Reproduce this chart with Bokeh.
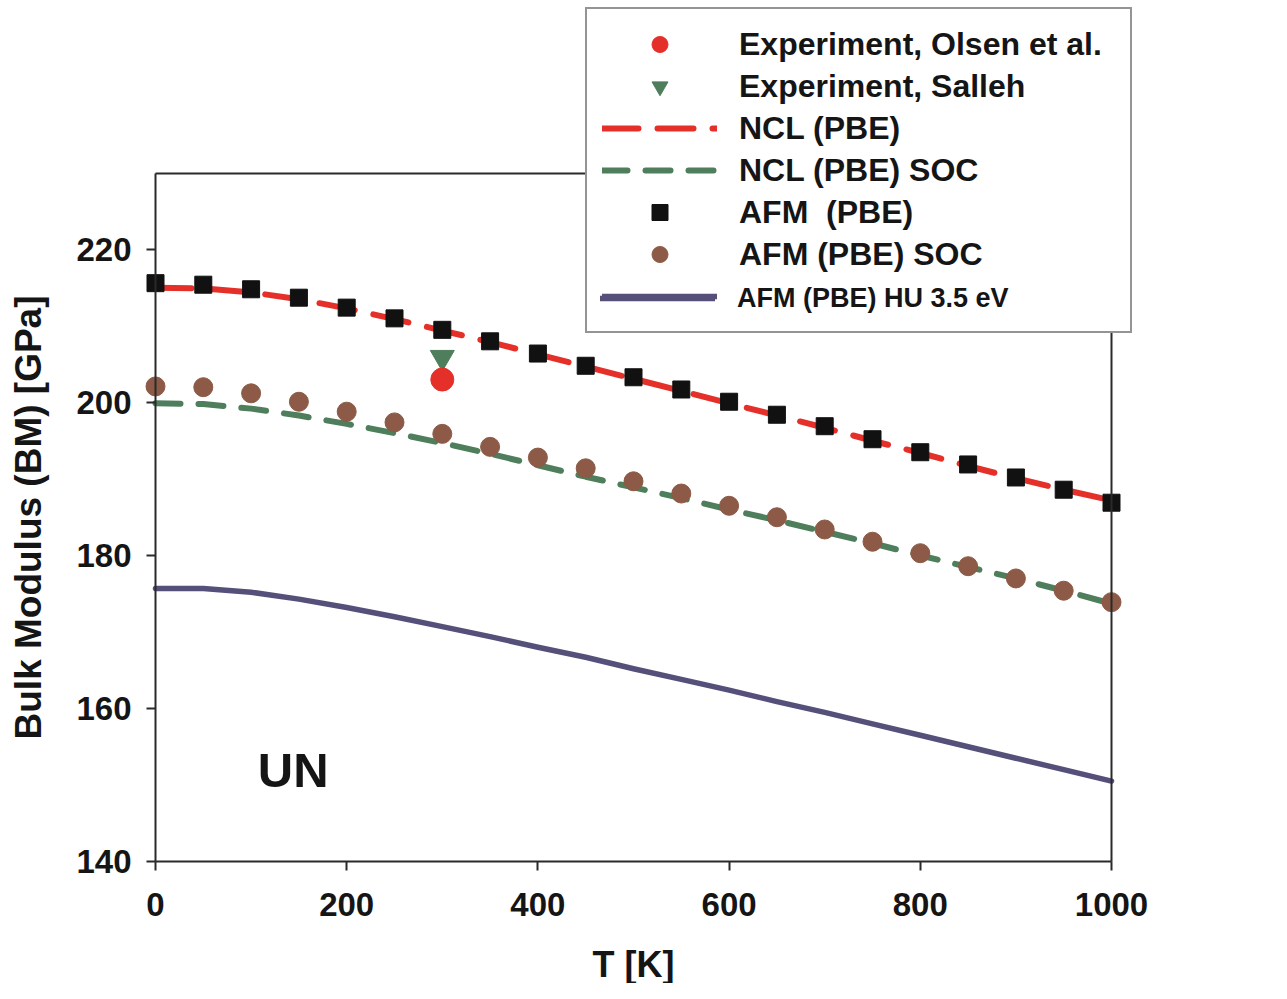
from bokeh.plotting import figure
from bokeh.models import Range1d, FixedTicker, LinearAxis, Legend, LegendItem
from bokeh.core.properties import value
from bokeh.embed import file_html
from bokeh.resources import INLINE

# ---------------- data ----------------
T = [0, 50, 100, 150, 200, 250, 300, 350, 400, 450, 500,
     550, 600, 650, 700, 750, 800, 850, 900, 950, 1000]
afm_pbe = [215.6, 215.4, 214.8, 213.7, 212.4, 211.0, 209.5, 208.0, 206.4, 204.8, 203.3,
           201.7, 200.1, 198.4, 196.9, 195.2, 193.5, 191.9, 190.2, 188.6, 186.9]
ncl_pbe = [215.0, 214.9, 214.4, 213.5, 212.3, 210.9, 209.4, 207.9, 206.3, 204.7, 203.1,
           201.5, 199.9, 198.3, 196.7, 195.0, 193.4, 191.7, 190.1, 188.6, 187.2]
afm_soc = [202.1, 202.0, 201.2, 200.1, 198.8, 197.4, 195.9, 194.2, 192.8, 191.4, 189.7,
           188.1, 186.5, 185.0, 183.4, 181.8, 180.3, 178.6, 177.0, 175.4, 173.9]
ncl_soc = [199.9, 199.8, 199.2, 198.3, 197.2, 196.0, 194.7, 193.3, 191.8, 190.3, 188.9,
           187.5, 186.0, 184.6, 183.1, 181.6, 180.0, 178.5, 177.0, 175.4, 173.7]
afm_hu = [175.7, 175.7, 175.2, 174.3, 173.2, 172.0, 170.7, 169.4, 168.0, 166.7, 165.2,
          163.8, 162.4, 160.9, 159.5, 158.0, 156.5, 155.0, 153.5, 152.0, 150.5]
exp_T = [300]
olsen = [203.0]
salleh = [205.9]

x_ticks = [0, 200, 400, 600, 800, 1000]
y_ticks = [140, 160, 180, 200, 220]
x_lim = (0, 1000)
y_lim = (140, 230)

labels = ["Experiment, Olsen et al.", "Experiment, Salleh", "NCL (PBE)",
          "NCL (PBE) SOC", "AFM  (PBE)", "AFM (PBE) SOC", "AFM (PBE) HU 3.5 eV"]

# ---------------- style ----------------
FONT = "Liberation Sans"
RED = "#e5302a"
GREEN = "#4e7e5b"
BROWN = "#8c5a46"
PURPLE = "#55507a"
AX = "#2a2a2a"
TXT = "#151515"

W, H = 1270, 983
# frame spans the whole canvas; the visible box is drawn by fixed-location axes
PX_X = 0.956   # px per K
PX_Y = 7.65    # px per GPa
X0_PX, Y220_PX = 155, 249
xs = -X0_PX / PX_X
xe = xs + W / PX_X
ye = 220 + Y220_PX / PX_Y
ys = ye - H / PX_Y

p = figure(width=W, height=H, output_backend="svg", toolbar_location=None,
           x_range=Range1d(xs, xe), y_range=Range1d(ys, ye),
           x_axis_location=None, y_axis_location=None,
           min_border_left=0, min_border_right=0,
           min_border_top=0, min_border_bottom=0)
p.xgrid.visible = False
p.ygrid.visible = False
p.outline_line_color = None
p.background_fill_color = "white"
p.border_fill_color = "white"


def style_axis(ax, label_size="36px"):
    ax.axis_line_color = AX
    ax.axis_line_width = 2
    ax.major_tick_line_color = AX
    ax.major_tick_line_width = 2
    ax.major_tick_out = 9
    ax.major_tick_in = 0
    ax.minor_tick_out = 0
    ax.minor_tick_in = 0
    ax.major_label_text_font = FONT
    ax.major_label_text_font_style = "bold"
    ax.major_label_text_font_size = "33px"
    ax.major_label_text_color = TXT
    ax.axis_label_text_font = FONT
    ax.axis_label_text_font_style = "bold"
    ax.axis_label_text_font_size = label_size
    ax.axis_label_text_color = TXT


xa = LinearAxis(ticker=FixedTicker(ticks=x_ticks, minor_ticks=[]), bounds=x_lim,
                fixed_location=y_lim[0], axis_label="T [K]")
style_axis(xa, "36px")
xa.major_label_standoff = 22
xa.axis_label_standoff = 25
p.add_layout(xa, "below")

ya = LinearAxis(ticker=FixedTicker(ticks=y_ticks, minor_ticks=[]), bounds=y_lim,
                fixed_location=x_lim[0], axis_label="Bulk Modulus (BM) [GPa]")
style_axis(ya, "37px")
ya.major_label_standoff = 15
ya.axis_label_standoff = 24
p.add_layout(ya, "left")

top = LinearAxis(ticker=FixedTicker(ticks=[], minor_ticks=[]), bounds=x_lim,
                 fixed_location=y_lim[1])
style_axis(top)
top.major_tick_out = 0
p.add_layout(top, "above")

right = LinearAxis(ticker=FixedTicker(ticks=[], minor_ticks=[]), bounds=y_lim,
                   fixed_location=x_lim[1])
style_axis(right)
right.major_tick_out = 0
p.add_layout(right, "right")

# ---------------- glyphs ----------------
r_ncl = p.line(T, ncl_pbe, line_color=RED, line_width=6, line_dash="36 19", line_cap="round")
r_ncl_soc = p.line(T, ncl_soc, line_color=GREEN, line_width=6, line_dash="25 18", line_cap="round")
r_hu = p.line(T, afm_hu, line_color=PURPLE, line_width=5.5, line_cap="round", line_join="round")
r_afm = p.scatter(T, afm_pbe, marker="square", size=17, fill_color="#111111", line_color="#111111")
r_afm_soc = p.scatter(T, afm_soc, marker="circle", size=19, fill_color=BROWN, line_color=BROWN)
r_salleh = p.scatter(exp_T, salleh, marker="inverted_triangle", size=24, fill_color=GREEN, line_color=GREEN)
r_olsen = p.scatter(exp_T, olsen, marker="circle", size=23, fill_color=RED, line_color=RED)

p.text(x=[107], y=[151.9], text=["UN"], text_font=value(FONT), text_font_style="bold",
       text_font_size="49px", text_color=TXT, text_baseline="alphabetic", text_align="left")

# ---------------- legend ----------------
renderers = [r_olsen, r_salleh, r_ncl, r_ncl_soc, r_afm, r_afm_soc, r_hu]
LEG_X, LEG_BOTTOM = 585, 333       # canvas px of the legend box's lower-left corner
PAD, ROW, SP, GW, STANDOFF = 15, 40, 2, 115, 22
# main box: six labels at full size; the last row's label is set smaller, as in the original
legend = Legend(items=[LegendItem(label=l, renderers=[r])
                       for l, r in zip(labels[:-1] + [" "], renderers)],
                location=(LEG_X, H - LEG_BOTTOM), orientation="vertical",
                glyph_width=GW, glyph_height=ROW, label_height=ROW, label_width=376,
                label_standoff=STANDOFF, spacing=SP, padding=PAD, margin=0,
                label_text_font=FONT, label_text_font_style="bold",
                label_text_font_size="32px", label_text_color=TXT,
                border_line_color=AX, border_line_width=2,
                background_fill_color="white", background_fill_alpha=1.0)
p.add_layout(legend, "center")

last_row_bottom = LEG_BOTTOM - PAD
legend2 = Legend(items=[LegendItem(label=labels[-1], renderers=[r_hu])],
                 location=(LEG_X + PAD, H - last_row_bottom), orientation="vertical",
                 glyph_width=GW, glyph_height=ROW, label_height=ROW,
                 label_standoff=STANDOFF, spacing=0, padding=0, margin=0,
                 label_text_font=FONT, label_text_font_style="bold",
                 label_text_font_size="27px", label_text_color=TXT,
                 border_line_color=None, background_fill_alpha=0.0)
p.add_layout(legend2, "center")

open("out.html", "w").write(file_html(p, INLINE))
